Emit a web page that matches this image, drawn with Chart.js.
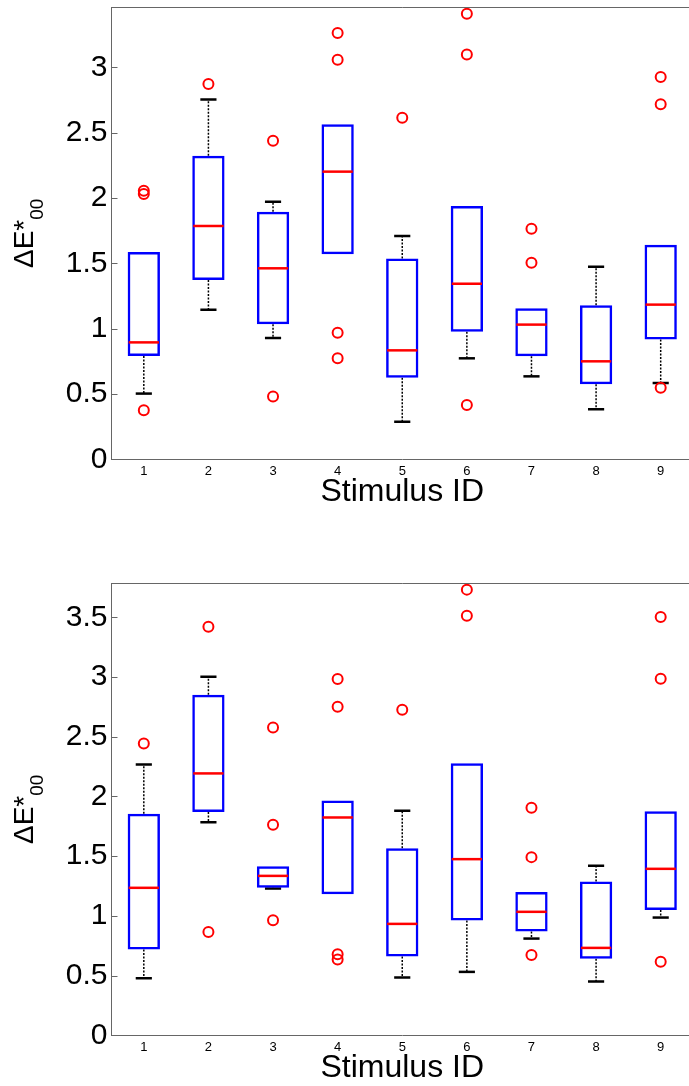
<!DOCTYPE html>
<html>
<head>
<meta charset="utf-8">
<script src="https://cdn.jsdelivr.net/npm/chart.js@4.4.1/dist/chart.umd.min.js"></script>
<style>
  body { margin: 0; overflow: hidden; background: #fff; }
  .panel { position: absolute; left: 0; width: 700px; height: 540px; }
</style>
</head>
<body>
<div class="panel" style="top:0px"><canvas id="chartTop"></canvas></div>
<div class="panel" style="top:576px"><canvas id="chartBottom"></canvas></div>
<script>
// Stimulus IDs on the x axis
const stimulusIds = ['1', '2', '3', '4', '5', '6', '7', '8', '9'];

// top panel: box statistics
const q1Top  = [0.790, 1.372, 1.033, 1.569, 0.625, 0.977, 0.788, 0.574, 0.918];
const medTop = [0.895, 1.786, 1.462, 2.202, 0.834, 1.344, 1.031, 0.750, 1.184];
const q3Top  = [1.587, 2.324, 1.895, 2.564, 1.538, 1.939, 1.156, 1.179, 1.643];
const loTop  = [0.503, 1.145, 0.929, 1.569, 0.288, 0.773, 0.635, 0.383, 0.584];
const hiTop  = [1.587, 2.755, 1.972, 2.564, 1.709, 1.939, 1.156, 1.474, 1.643];
const outIdsTop  = ['1', '1', '1', '2', '3', '3', '4', '4', '4', '4', '5', '6', '6', '6', '7', '7', '9', '9', '9'];
const outValsTop = [2.056, 2.031, 0.375, 2.872, 2.439, 0.480, 3.263, 3.059, 0.969, 0.773, 2.615, 3.411, 3.099, 0.416, 1.765, 1.505, 2.926, 2.717, 0.548];

// bottom panel: box statistics
const q1Bot  = [0.718, 1.869, 1.235, 1.182, 0.659, 0.961, 0.869, 0.642, 1.050];
const medBot = [1.235, 2.193, 1.335, 1.824, 0.933, 1.475, 1.034, 0.732, 1.394];
const q3Bot  = [1.855, 2.852, 1.416, 1.966, 1.567, 2.279, 1.201, 1.288, 1.877];
const loBot  = [0.478, 1.785, 1.229, 1.182, 0.483, 0.531, 0.810, 0.450, 0.986];
const hiBot  = [2.268, 3.003, 1.416, 1.966, 1.880, 2.279, 1.201, 1.419, 1.877];
const outIdsBot  = ['1', '2', '2', '3', '3', '3', '4', '4', '4', '4', '5', '6', '6', '7', '7', '7', '9', '9', '9'];
const outValsBot = [2.444, 3.422, 0.866, 2.578, 1.763, 0.964, 2.983, 2.751, 0.679, 0.634, 2.726, 3.732, 3.514, 1.905, 1.492, 0.673, 3.503, 2.986, 0.615];

const yMaxTop = 3.46;
const yMaxBot = 3.785;

const axisGray = '#666666';

// whiskers, medians, frame and the y title (with subscript) drawn via the scales
function boxExtras(q1, med, q3, lo, hi) {
    return {
        id: 'boxExtras',
        beforeDatasetsDraw(chart) {
            const {ctx, scales: {x, y}} = chart;
            const step = x.getPixelForValue(1) - x.getPixelForValue(0);
            ctx.save();
            ctx.strokeStyle = '#000';
            ctx.lineWidth = 1.5;
            ctx.setLineDash([2, 1.5]);
            q1.forEach((v, i) => {
                const px = x.getPixelForValue(i);
                ctx.beginPath();
                if (hi[i] > q3[i]) {
                    ctx.moveTo(px, y.getPixelForValue(q3[i]));
                    ctx.lineTo(px, y.getPixelForValue(hi[i]));
                }
                if (lo[i] < q1[i]) {
                    ctx.moveTo(px, y.getPixelForValue(q1[i]));
                    ctx.lineTo(px, y.getPixelForValue(lo[i]));
                }
                ctx.stroke();
            });
            ctx.setLineDash([]);
            ctx.lineWidth = 2.5;
            q1.forEach((v, i) => {
                const px = x.getPixelForValue(i);
                const w = step * 0.125;
                ctx.beginPath();
                if (hi[i] > q3[i]) {
                    ctx.moveTo(px - w, y.getPixelForValue(hi[i]));
                    ctx.lineTo(px + w, y.getPixelForValue(hi[i]));
                }
                if (lo[i] < q1[i]) {
                    ctx.moveTo(px - w, y.getPixelForValue(lo[i]));
                    ctx.lineTo(px + w, y.getPixelForValue(lo[i]));
                }
                ctx.stroke();
            });
            ctx.restore();
        },
        afterDatasetsDraw(chart) {
            const {ctx, scales: {x, y}} = chart;
            const step = x.getPixelForValue(1) - x.getPixelForValue(0);
            ctx.save();
            ctx.strokeStyle = '#ff0000';
            ctx.lineWidth = 2.5;
            med.forEach((v, i) => {
                const px = x.getPixelForValue(i);
                const py = y.getPixelForValue(v);
                ctx.beginPath();
                ctx.moveTo(px - step * 0.25 + 1, py);
                ctx.lineTo(px + step * 0.25 - 1, py);
                ctx.stroke();
            });
            ctx.restore();
        },
        afterDraw(chart) {
            const {ctx, chartArea: a, scales: {y}} = chart;
            ctx.save();
            // top frame line and inward tick marks
            ctx.strokeStyle = axisGray;
            ctx.lineWidth = 1;
            ctx.beginPath();
            ctx.moveTo(a.left, Math.round(a.top) + 0.5);
            ctx.lineTo(a.right, Math.round(a.top) + 0.5);
            y.ticks.forEach(t => {
                const py = Math.round(y.getPixelForValue(t.value)) + 0.5;
                ctx.moveTo(a.left, py);
                ctx.lineTo(a.left + 6, py);
            });
            ctx.stroke();

            // y title: ΔE*00 with the 00 as subscript
            const cy = (a.top + a.bottom) / 2;
            const mainFont = '28px "Liberation Sans", Arial, sans-serif';
            const subFont = '19px "Liberation Sans", Arial, sans-serif';
            ctx.font = mainFont;
            const w1 = ctx.measureText('ΔE*').width;
            ctx.font = subFont;
            const w2 = ctx.measureText('00').width;
            ctx.translate(33, cy);
            ctx.rotate(-Math.PI / 2);
            ctx.fillStyle = '#000';
            ctx.textBaseline = 'alphabetic';
            ctx.textAlign = 'left';
            ctx.font = mainFont;
            ctx.fillText('ΔE*', -(w1 + w2) / 2, 0);
            ctx.font = subFont;
            ctx.fillText('00', -(w1 + w2) / 2 + w1, 10);
            ctx.restore();
        }
    };
}

function makeBoxChart(canvasId, yMax, q1, med, q3, lo, hi, outIds, outVals) {
    return new Chart(canvasId, {
        type: 'bar',
        data: {
            labels: stimulusIds,
            datasets: [{
                type: 'scatter',
                data: outIds.map((id, i) => ({x: id, y: outVals[i]})),
                pointStyle: 'circle',
                pointRadius: 5,
                pointBorderWidth: 2,
                pointBorderColor: '#ff0000',
                pointBackgroundColor: 'rgba(0,0,0,0)',
                clip: false
            }, {
                type: 'bar',
                data: q1.map((v, i) => [v, q3[i]]),
                borderColor: '#0000ff',
                borderWidth: 2.5,
                borderSkipped: false,
                backgroundColor: 'rgba(0,0,0,0)',
                barPercentage: 0.5,
                categoryPercentage: 1.0
            }]
        },
        options: {
            responsive: true,
            maintainAspectRatio: false,
            animation: false,
            layout: { padding: { top: 7.3, right: 1, left: 0, bottom: 0 } },
            plugins: {
                legend: { display: false },
                tooltip: { enabled: false }
            },
            scales: {
                x: {
                    type: 'category',
                    offset: true,
                    grid: { display: false, drawTicks: false },
                    border: { display: true, color: axisGray, width: 1 },
                    ticks: {
                        color: '#000',
                        padding: 4,
                        font: { family: '"Liberation Sans", Arial, sans-serif', size: 13 }
                    },
                    title: {
                        display: true,
                        text: 'Stimulus ID',
                        color: '#000',
                        padding: { top: 0, bottom: 29 },
                        font: { family: '"Liberation Sans", Arial, sans-serif', size: 32, lineHeight: 1.2 }
                    },
                    afterFit: function(scale) {
                        scale.height = 80.7;
                        scale.paddingLeft = 0;
                        scale.paddingRight = 0;
                    }
                },
                y: {
                    min: 0,
                    max: yMax,
                    grid: { display: false, drawTicks: false },
                    border: { display: true, color: axisGray, width: 1 },
                    ticks: {
                        stepSize: 0.5,
                        includeBounds: false,
                        color: '#000',
                        padding: 4,
                        font: { family: '"Liberation Sans", Arial, sans-serif', size: 30 },
                        callback: function(value) { return String(value); }
                    },
                    afterFit: function(scale) {
                        scale.width = 111.5;
                        scale.paddingTop = 0;
                        scale.paddingBottom = 0;
                    }
                }
            }
        },
        plugins: [boxExtras(q1, med, q3, lo, hi)]
    });
}

makeBoxChart('chartTop', yMaxTop, q1Top, medTop, q3Top, loTop, hiTop, outIdsTop, outValsTop);
makeBoxChart('chartBottom', yMaxBot, q1Bot, medBot, q3Bot, loBot, hiBot, outIdsBot, outValsBot);
</script>
</body>
</html>
